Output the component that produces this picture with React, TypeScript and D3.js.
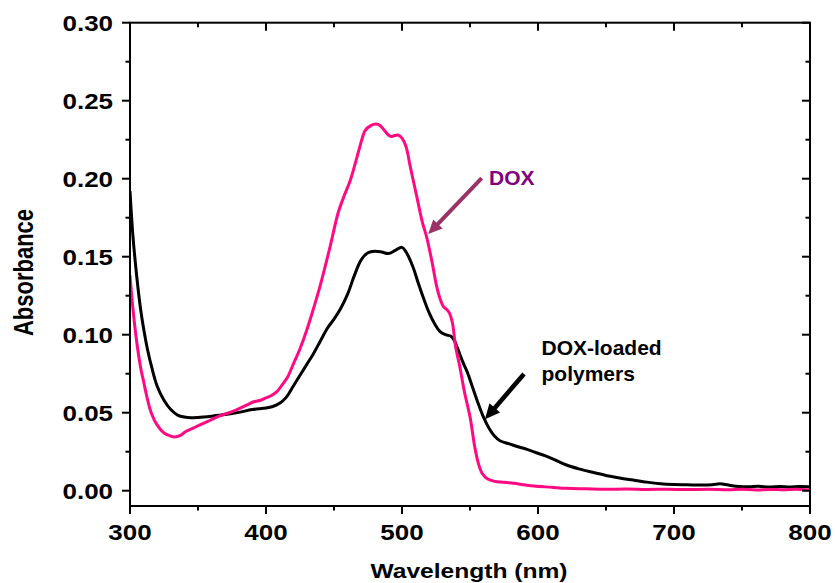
import React from "react";
import * as d3 from "d3";

// UV-Vis absorbance spectra: free DOX and DOX-loaded polymers
const wlLoaded = [300, 302, 305, 308, 310, 313, 316, 320, 325, 330, 335, 340, 345, 350, 360, 370, 380, 390, 400, 405, 410, 415, 420, 425, 430, 435, 440, 445, 450, 455, 460, 465, 470, 475, 480, 485, 490, 495, 500, 503, 508, 512, 516, 520, 524, 528, 532, 536, 538, 541, 544, 548, 552, 556, 560, 564, 568, 572, 579, 586, 592, 600, 605, 612, 620, 630, 640, 650, 660, 670, 680, 690, 700, 710, 720, 728, 734, 740, 748, 755, 762, 770, 778, 785, 792, 800];
const absLoaded = [0.192, 0.165, 0.137, 0.115, 0.104, 0.09, 0.079, 0.067, 0.058, 0.052, 0.0485, 0.0472, 0.0468, 0.047, 0.0478, 0.0488, 0.0502, 0.052, 0.053, 0.054, 0.056, 0.06, 0.067, 0.074, 0.081, 0.088, 0.096, 0.104, 0.11, 0.117, 0.126, 0.138, 0.148, 0.1525, 0.1535, 0.153, 0.152, 0.154, 0.156, 0.153, 0.1436, 0.133, 0.123, 0.114, 0.107, 0.102, 0.1, 0.099, 0.097, 0.091, 0.084, 0.076, 0.066, 0.056, 0.047, 0.04, 0.035, 0.032, 0.03, 0.028, 0.0265, 0.024, 0.0225, 0.02, 0.0168, 0.014, 0.0118, 0.0098, 0.0082, 0.0068, 0.0055, 0.0045, 0.004, 0.0038, 0.0036, 0.0038, 0.0044, 0.0036, 0.0027, 0.0025, 0.0028, 0.0024, 0.0027, 0.0023, 0.0027, 0.0025];

const wlDox = [300, 302, 305, 308, 310, 313, 316, 320, 325, 330, 333, 337, 341, 346, 351, 356, 361, 366, 371, 376, 381, 386, 391, 396, 400, 404, 408, 412, 416, 420, 425, 430, 435, 440, 447, 453, 457, 462, 466, 469, 473, 477, 481, 484, 487, 490, 492, 494, 497, 500, 503, 506, 511, 515, 518, 522, 525.5, 528, 530.5, 533, 535, 537, 539.5, 542.5, 546, 550, 553.5, 556, 559, 563, 568, 575, 582, 590, 597, 610, 621, 635, 650, 665, 680, 695, 710, 725, 740, 750, 760, 770, 780, 790, 800];
const absDox = [0.138, 0.118, 0.095, 0.078, 0.07, 0.058, 0.049, 0.042, 0.037, 0.035, 0.0345, 0.0355, 0.038, 0.04, 0.042, 0.044, 0.046, 0.048, 0.0495, 0.051, 0.053, 0.055, 0.057, 0.058, 0.0595, 0.061, 0.0635, 0.068, 0.073, 0.081, 0.091, 0.103, 0.117, 0.132, 0.156, 0.178, 0.188, 0.199, 0.211, 0.2205, 0.231, 0.234, 0.235, 0.234, 0.231, 0.228, 0.227, 0.2275, 0.228, 0.226, 0.2205, 0.208, 0.188, 0.172, 0.163, 0.147, 0.131, 0.123, 0.118, 0.116, 0.1137, 0.108, 0.092, 0.0795, 0.063, 0.0474, 0.028, 0.018, 0.011, 0.0075, 0.006, 0.0054, 0.0048, 0.0038, 0.003, 0.0022, 0.0015, 0.0012, 0.0009, 0.0011, 0.0008, 0.001, 0.0007, 0.0009, 0.0006, 0.0009, 0.0005, 0.0008, 0.0006, 0.0009, 0.0004];

const xMajor = [300, 400, 500, 600, 700, 800];
const xMinor = [350, 450, 550, 650, 750];
const yMajor = [0, 0.05, 0.1, 0.15, 0.2, 0.25, 0.3];
const yMinor = [0.025, 0.075, 0.125, 0.175, 0.225, 0.275];

// Annotation arrows in data units: [tailWl, tailAbs, tipWl, tipAbs]
const doxArrow = [558.6, 0.2003, 519.3, 0.1645];
const loadedArrow = [589.7, 0.0748, 561, 0.0458];

const W = 835;
const H = 583;
const M = { left: 130, right: 25, top: 22.7, bottom: 77 };
const FONT = "'Liberation Sans', Arial, Helvetica, sans-serif";
const PINK = "#ff0a82";

function Arrow({ a, color, width, head, headW, x, y }: any) {
  const x1 = x(a[0]), y1 = y(a[1]), x2 = x(a[2]), y2 = y(a[3]);
  const ang = Math.atan2(y2 - y1, x2 - x1);
  const bx = x2 - head * Math.cos(ang), by = y2 - head * Math.sin(ang);
  const px = -Math.sin(ang) * headW / 2, py = Math.cos(ang) * headW / 2;
  return (
    <g>
      <line x1={x1} y1={y1} x2={bx + Math.cos(ang)} y2={by + Math.sin(ang)} stroke={color} strokeWidth={width} />
      <polygon points={`${x2},${y2} ${bx + px},${by + py} ${bx - px},${by - py}`} fill={color} />
    </g>
  );
}

export default function App() {
  const x = d3.scaleLinear().domain([300, 800]).range([M.left, W - M.right]);
  const y = d3.scaleLinear().domain([-0.0098, 0.3]).range([H - M.bottom, M.top]);
  const line = d3.line<[number, number]>().x(d => x(d[0])).y(d => y(d[1])).curve(d3.curveCatmullRom.alpha(0.5));
  const loaded = wlLoaded.map((w, i) => [w, absLoaded[i]] as [number, number]);
  const dox = wlDox.map((w, i) => [w, absDox[i]] as [number, number]);
  const x0 = M.left, x1 = W - M.right, y0 = H - M.bottom, y1 = M.top;

  return (
    <svg width={W} height={H} style={{ position: "absolute", left: 0, top: 0, background: "#fff" }} fontFamily={FONT}>
      <defs>
        <clipPath id="plot">
          <rect x={x0} y={y1} width={x1 - x0} height={y0 - y1} />
        </clipPath>
      </defs>
      <g clipPath="url(#plot)" fill="none" strokeLinejoin="round">
        <path d={line(loaded) || ""} stroke="#000" strokeWidth={3} />
        <path d={line(dox) || ""} stroke={PINK} strokeWidth={3} />
      </g>
      {/* frame */}
      <rect x={x0} y={y1} width={x1 - x0} height={y0 - y1} fill="none" stroke="#000" strokeWidth={2} />
      {/* x ticks: outward on bottom, inward on top */}
      {xMajor.map(v => (
        <g key={"xm" + v}>
          <line x1={x(v)} x2={x(v)} y1={y0} y2={y0 + 8} stroke="#000" strokeWidth={2} />
          <line x1={x(v)} x2={x(v)} y1={y1} y2={y1 + 8} stroke="#000" strokeWidth={2} />
          <text transform={`translate(${x(v)},${y0 + 33.5}) scale(1.18,1)`} textAnchor="middle" fontSize={22} fontWeight="bold">{v}</text>
        </g>
      ))}
      {xMinor.map(v => (
        <g key={"xn" + v}>
          <line x1={x(v)} x2={x(v)} y1={y0} y2={y0 + 4.5} stroke="#000" strokeWidth={2} />
          <line x1={x(v)} x2={x(v)} y1={y1} y2={y1 + 4.5} stroke="#000" strokeWidth={2} />
        </g>
      ))}
      {/* y ticks: outward on left, inward on right */}
      {yMajor.map(v => (
        <g key={"ym" + v}>
          <line x1={x0 - 8} x2={x0} y1={y(v)} y2={y(v)} stroke="#000" strokeWidth={2} />
          <line x1={x1 - 8} x2={x1} y1={y(v)} y2={y(v)} stroke="#000" strokeWidth={2} />
          <text transform={`translate(113,${y(v) + 7.8}) scale(1.18,1)`} textAnchor="end" fontSize={22} fontWeight="bold">{v.toFixed(2)}</text>
        </g>
      ))}
      {yMinor.map(v => (
        <g key={"yn" + v}>
          <line x1={x0 - 4.5} x2={x0} y1={y(v)} y2={y(v)} stroke="#000" strokeWidth={2} />
          <line x1={x1 - 4.5} x2={x1} y1={y(v)} y2={y(v)} stroke="#000" strokeWidth={2} />
        </g>
      ))}
      {/* axis titles */}
      <text transform={`translate(469,577.5) scale(1.2,1)`} textAnchor="middle" fontSize={20.5} fontWeight="bold">Wavelength (nm)</text>
      <text transform={`translate(33,272.5) rotate(-90) scale(1,1.22)`} textAnchor="middle" fontSize={22} fontWeight="bold">Absorbance</text>
      {/* annotations */}
      <Arrow a={doxArrow} color="#993366" width={4} head={14} headW={13} x={x} y={y} />
      <text x={489} y={185} fontSize={21} fontWeight="bold" fill="#800080">DOX</text>
      <Arrow a={loadedArrow} color="#000" width={4.5} head={15} headW={14} x={x} y={y} />
      <text x={541.5} y={355} fontSize={21} fontWeight="bold" fill="#000">DOX-loaded</text>
      <text x={541.5} y={381} fontSize={21} fontWeight="bold" fill="#000">polymers</text>
    </svg>
  );
}
